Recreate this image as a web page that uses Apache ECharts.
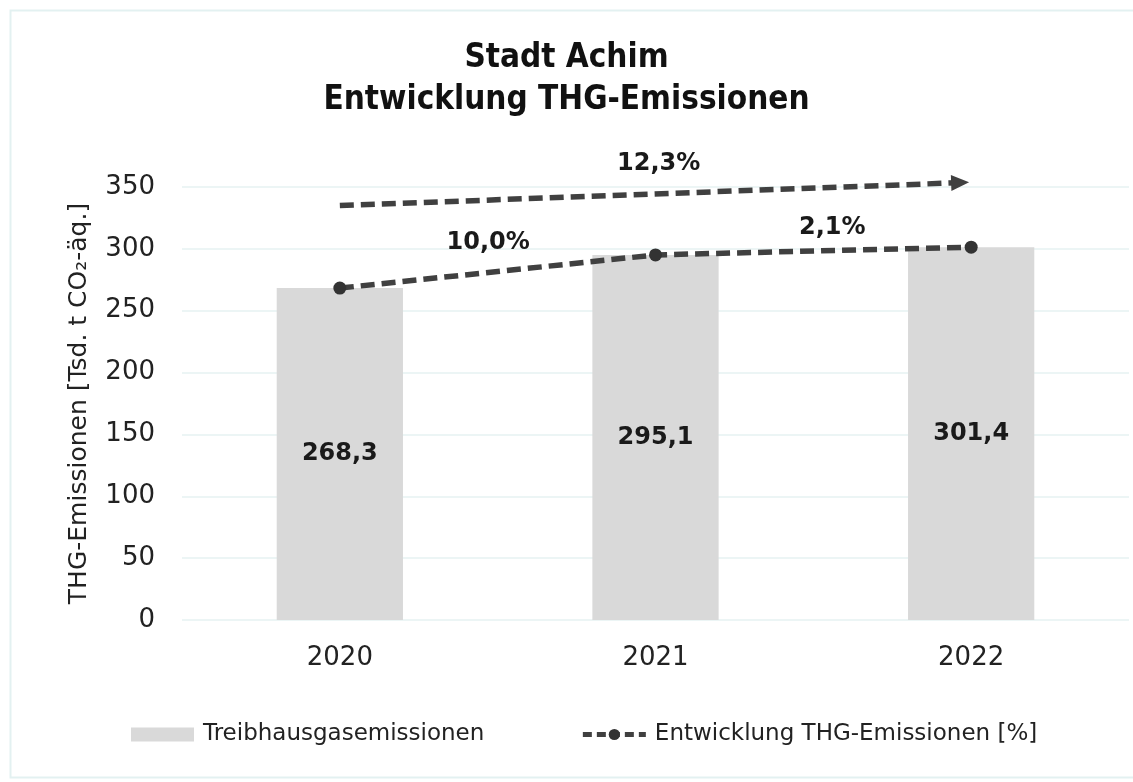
<!DOCTYPE html>
<html>
<head>
<meta charset="utf-8">
<script src="https://cdn.jsdelivr.net/npm/echarts@6/dist/echarts.min.js"></script>
<style>
html,body{margin:0;padding:0;background:#fff;}
#chart{width:1133px;height:782px;}
</style>
</head>
<body>
<div id="chart"></div>
<script>
var categories = ['2020', '2021', '2022'];
var emissions = [268.3, 295.1, 301.4];
var emissionLabels = ['268,3', '295,1', '301,4'];
var yTicks = [0, 50, 100, 150, 200, 250, 300, 350];
// percentage annotations: x position (category index), y value, text
var pctX = [0.47, 1.56, 1.01];
var pctY = [305, 317, 369];
var pctText = ['10,0%', '2,1%', '12,3%'];
// overall trend arrow (category index, value)
var arrowStart = [0.0, 335];
var arrowEnd = [1.965, 353.5];

var FONT = 'DejaVu Sans';
var chart = echarts.init(document.getElementById('chart'));
var pctData = pctX.map(function (x, i) { return { value: [x, pctY[i]], label: { formatter: pctText[i] } }; });
var DASH = [14, 7];

chart.setOption({
  animation: false,
  textStyle: { fontFamily: FONT },
  graphic: [{
    type: 'rect', left: 8, top: 8,
    shape: { width: 1140, height: 767 },
    style: { fill: 'none', stroke: '#e3f1f1', lineWidth: 2 }
  }],
  title: {
    text: 'Stadt Achim\nEntwicklung THG-Emissionen',
    left: 'center', top: 32,
    textStyle: { fontFamily: 'DejaVu Sans Condensed', fontSize: 33, fontWeight: 'bold', color: '#111', lineHeight: 42 }
  },
  legend: {
    left: 126, top: 718,
    itemWidth: 63, itemHeight: 14, itemGap: 96,
    textStyle: { fontFamily: FONT, fontSize: 23, color: '#222', padding: [0, 0, 0, 4] },
    data: [
      { name: 'Treibhausgasemissionen', icon: 'rect' },
      { name: 'Entwicklung THG-Emissionen [%]', lineStyle: { width: 5, type: [9, 5] } }
    ]
  },
  grid: { left: 182, right: 4, top: 187, bottom: 162 },
  xAxis: [{
    type: 'category', data: categories,
    axisLine: { show: false }, axisTick: { show: false },
    axisLabel: { fontSize: 26, color: '#222', margin: 25, fontFamily: FONT }
  }, {
    type: 'value', min: -0.5, max: 2.5, show: false
  }],
  yAxis: {
    type: 'value', min: 0, max: 350, interval: 50,
    name: 'THG-Emissionen [Tsd. t CO₂-äq.]',
    nameLocation: 'middle', nameGap: 90, nameRotate: 90,
    nameTextStyle: { fontSize: 25, color: '#222', fontFamily: FONT },
    axisLine: { show: false }, axisTick: { show: false },
    axisLabel: { fontSize: 26, color: '#222', margin: 27, fontFamily: FONT,
      formatter: function (v) { return yTicks.indexOf(v) >= 0 ? String(v) : ''; } },
    splitLine: { lineStyle: { color: '#e6f2f2', width: 1.5 } }
  },
  series: [{
    name: 'Treibhausgasemissionen', type: 'bar', data: emissions, barWidth: '40%',
    itemStyle: { color: '#d9d9d9' },
    label: { show: true, position: 'inside', fontSize: 24, fontWeight: 'bold', color: '#1a1a1a',
      formatter: function (p) { return emissionLabels[p.dataIndex]; } }
  }, {
    name: 'Entwicklung THG-Emissionen [%]', type: 'line', data: emissions,
    symbol: 'circle', symbolSize: 13,
    itemStyle: { color: '#333' },
    lineStyle: { color: '#404040', width: 5.5, type: DASH }
  }, {
    name: 'arrow', type: 'line', xAxisIndex: 1, clip: false, silent: true,
    data: [
      { value: arrowStart, symbol: 'none' },
      { value: arrowEnd, symbol: 'triangle', symbolSize: [16, 18], symbolRotate: -88 }
    ],
    itemStyle: { color: '#404040' },
    lineStyle: { color: '#404040', width: 5.5, type: DASH }
  }, {
    name: 'pct', type: 'scatter', xAxisIndex: 1, data: pctData, clip: false,
    symbolSize: 0, silent: true,
    itemStyle: { opacity: 1 },
    label: { show: true, position: 'inside', fontSize: 24, fontWeight: 'bold', color: '#1a1a1a' }
  }]
});
</script>
</body>
</html>
